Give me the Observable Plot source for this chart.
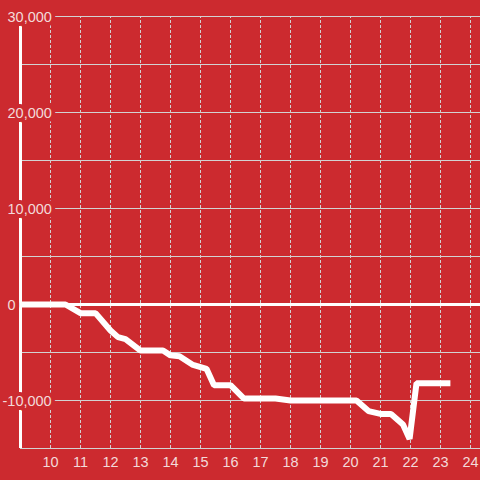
<!DOCTYPE html>
<html>
<head>
<meta charset="utf-8">
<script src="https://cdn.jsdelivr.net/npm/d3@7"></script>
<script src="https://cdn.jsdelivr.net/npm/@observablehq/plot@0.6"></script>
<style>
  html, body { margin: 0; padding: 0; background: #cc2a2f; }
  #chart svg { display: block; }
</style>
</head>
<body>
<div id="chart"></div>
<script>
// Time of day (hours) and cumulative value
const hours  = [9, 10.5, 11, 11.5, 12, 12.25, 12.5, 13, 13.75, 14, 14.3, 14.75, 15.2, 15.45, 16, 16.45, 17.5, 18, 20.2, 20.6, 21, 21.35, 21.75, 21.97, 22.2, 23.33];
const values = [0, 0, -900, -900, -2700, -3400, -3600, -4800, -4800, -5300, -5400, -6300, -6700, -8400, -8400, -9800, -9800, -10000, -10000, -11100, -11400, -11400, -12500, -14000, -8200, -8200];

const xTicks = [10, 11, 12, 13, 14, 15, 16, 17, 18, 19, 20, 21, 22, 23, 24];
const yGrid  = [-15000, -10000, -5000, 5000, 10000, 15000, 20000, 25000, 30000];
const yLabelsPos = [0, 10000, 20000, 30000];
const yLabelsNeg = [-10000];

const data = hours.map((h, i) => ({hour: h, value: values[i]}));

const bg = "#cc2a2f";
const labelColor = "#f3dada";
const gridColor = "#d2d2d2";
const fmt = d3.format(",");

const chart = Plot.plot({
  width: 480,
  height: 480,
  marginLeft: 20,
  marginRight: 0,
  marginTop: 16,
  marginBottom: 32,
  style: {background: bg, fontFamily: "Liberation Sans, Arial, sans-serif"},
  x: {domain: [9, 9 + 460 / 30], axis: null},
  y: {domain: [-15000, 30000], axis: null},
  marks: [
    Plot.ruleY(yGrid, {stroke: gridColor, strokeWidth: 1}),
    Plot.ruleX(xTicks, {stroke: gridColor, strokeWidth: 1, strokeDasharray: "3,2", y1: -15000, y2: 30000}),
    Plot.ruleX([9], {stroke: "white", strokeWidth: 3, y1: -15000, y2: 30000}),
    Plot.ruleY([0], {stroke: "white", strokeWidth: 3}),
    Plot.text(yLabelsPos, {
      y: d => d, text: d => fmt(d), frameAnchor: "left", textAnchor: "start",
      dx: -13, dy: 1, fill: labelColor, stroke: bg, strokeWidth: 8, fontSize: 14.5
    }),
    Plot.text(yLabelsNeg, {
      y: d => d, text: d => "-" + fmt(-d), frameAnchor: "left", textAnchor: "start",
      dx: -18, dy: 1, fill: labelColor, stroke: bg, strokeWidth: 8, fontSize: 14.5
    }),
    Plot.axisX(xTicks, {
      tickSize: 0, tickPadding: 0, label: null, fill: labelColor, fontSize: 14.5,
      dy: 8, tickFormat: d => String(d)
    }),
    Plot.line(data, {
      x: "hour", y: "value", stroke: "white", strokeWidth: 6,
      strokeLinejoin: "miter", strokeLinecap: "butt", curve: "linear"
    })
  ]
});
document.getElementById("chart").appendChild(chart);
</script>
</body>
</html>
